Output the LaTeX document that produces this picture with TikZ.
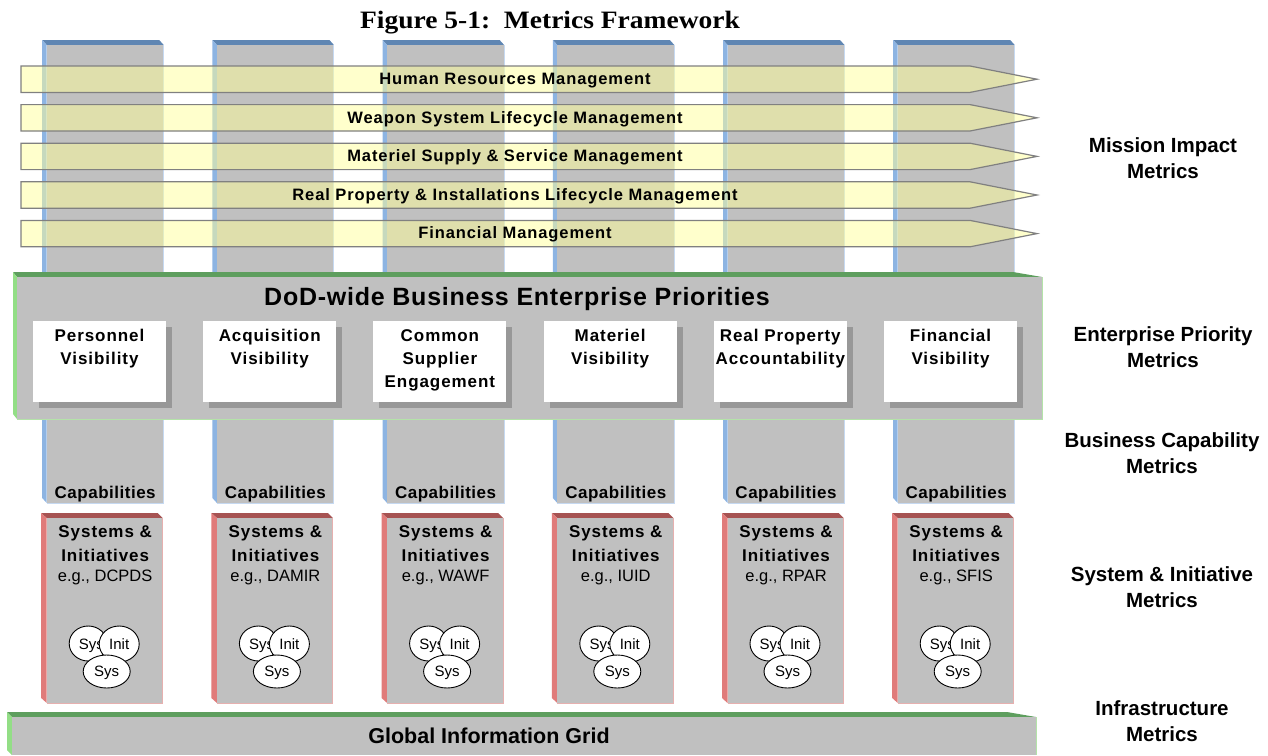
\documentclass[tikz,border=0pt]{standalone}
\usepackage{fontspec}
\setmainfont{Liberation Sans}
\newfontfamily\titlefont{Liberation Serif}
\newfontfamily\lsa[LetterSpace=5.5]{Liberation Sans}
\newfontfamily\lsb[LetterSpace=3]{Liberation Sans}
\usepackage{graphicx}
\usetikzlibrary{shapes.geometric}
\definecolor{frontgray}{HTML}{C0C0C0}
\definecolor{bluetop}{HTML}{5F86B3}
\definecolor{blueside}{HTML}{8DB4E2}
\definecolor{blueline}{HTML}{C6D9F1}
\definecolor{redtop}{HTML}{A65352}
\definecolor{redside}{HTML}{E07B7A}
\definecolor{redline}{HTML}{E6B0AF}
\definecolor{greentop}{HTML}{5E9E5E}
\definecolor{greenside}{HTML}{93DE86}
\definecolor{greenline}{HTML}{B4E3A9}
\definecolor{arrowfill}{HTML}{FFFF99}
\definecolor{arrowline}{HTML}{808080}
\definecolor{shadowgray}{HTML}{989898}
\newcommand{\mlines}[2]{\parbox[t]{#1}{\centering #2}}
\begin{document}
\begin{tikzpicture}[x=1pt,y=-1pt,
  txt/.style={inner sep=0pt, anchor=base},
  titlestyle/.style={txt, font=\titlefont\fontsize{25}{30}\selectfont\bfseries},
  arrowshape/.style={draw=arrowline, line width=1.2pt, fill=arrowfill, fill opacity=0.5},
  arrowtext/.style={txt, font=\lsa\fontsize{16.5}{20}\selectfont\bfseries},
  dodtext/.style={txt, font=\lsb\fontsize{25}{30}\selectfont\bfseries},
  eptext/.style={txt, font=\lsa\fontsize{17}{23}\selectfont\bfseries},
  captext/.style={txt, font=\lsb\fontsize{17}{20}\selectfont\bfseries},
  systext/.style={txt, font=\fontsize{17}{24}\selectfont},
  vennell/.style={ellipse, draw=black, line width=0.9pt, fill=white, inner sep=0pt},
  venntext/.style={inner sep=0pt, font=\fontsize{15}{17}\selectfont},
  gigtext/.style={txt, font=\fontsize{21.5}{26}\selectfont\bfseries},
  metrictext/.style={txt, font=\fontsize{20.5}{26.5}\selectfont\bfseries}
]
\useasboundingbox (0,0) rectangle (1268,755);

% title
\node[titlestyle] (title) at (550,28) {\scalebox{1.1}[1]{Figure 5-1:\ \ Metrics Framework}};

% pillars
\foreach \k in {0,...,5}{
  \pgfmathsetmacro\fx{46.7+170.2*\k}
  \pgfmathsetmacro\fr{\fx+117}
  \fill[bluetop] (\fx-4.5,40) -- (\fr-4.5,40) -- (\fr,45) -- (\fx,45) -- cycle;
  \fill[blueside] (\fx-4.5,40) -- (\fx,45) -- (\fx,503) -- (\fx-4.5,498) -- cycle;
  \fill[frontgray] (\fx,45) rectangle (\fr,503);
  \draw[blueline, line width=1pt] (\fr,45) -- (\fr,503) -- (\fx,503);
}

% arrows
\foreach \i/\t in {0/Human Resources Management,
                   1/Weapon System Lifecycle Management,
                   2/Materiel Supply \& Service Management,
                   3/Real Property \& Installations Lifecycle Management,
                   4/Financial Management}{
  \pgfmathsetmacro\ty{66+38.6*\i}
  \draw[arrowshape] (21,\ty) -- (970,\ty) -- (1037,\ty+13.2) -- (970,\ty+26.4) -- (21,\ty+26.4) -- cycle;
  \node[arrowtext] (arr\i) at (515,\ty+18.4) {\t};
}

% DoD-wide box
\fill[greentop] (13,272) -- (1013,272) -- (1042,277) -- (17,277) -- cycle;
\fill[greenside] (13,272) -- (17,277) -- (17,419) -- (13,414) -- cycle;
\fill[frontgray] (17,277) rectangle (1042,419);
\draw[greenline, line width=1pt] (1042,277) -- (1042,419) -- (17,419);
\node[dodtext] (dod) at (517,305) {DoD-wide Business Enterprise Priorities};

% enterprise priority boxes
\foreach \k/\t in {0/{Personnel\\Visibility},
                   1/{Acquisition\\Visibility},
                   2/{Common\\Supplier\\Engagement},
                   3/{Materiel\\Visibility},
                   4/{Real Property\\Accountability},
                   5/{Financial\\Visibility}}{
  \pgfmathsetmacro\bx{33+170.2*\k}
  \fill[shadowgray] (\bx+6,327) rectangle (\bx+139,408);
  \fill[white] (\bx,321) rectangle (\bx+133,402);
  \node[eptext] (ep\k) at (\bx+66.5,341) {\mlines{130pt}{\t}};
}

% capabilities labels, systems boxes, venn
\foreach \k/\e in {0/DCPDS,1/DAMIR,2/WAWF,3/IUID,4/RPAR,5/SFIS}{
  \pgfmathsetmacro\fx{46.7+170.2*\k}
  \pgfmathsetmacro\cx{\fx+58.5}
  \node[captext] (cap\k) at (\cx,498) {Capabilities};
  \fill[redtop] (\fx-5.5,513) -- (\fx+111,513) -- (\fx+116,518) -- (\fx,518) -- cycle;
  \fill[redside] (\fx-5.5,513) -- (\fx,518) -- (\fx,703) -- (\fx-5.5,698) -- cycle;
  \fill[frontgray] (\fx,518) rectangle (\fx+116,703);
  \draw[redline, line width=1pt] (\fx+116,518) -- (\fx+116,703) -- (\fx,703);
  \node[systext] (sys\k) at (\cx,537) {\mlines{114pt}{\lsa\bfseries Systems \&\\Initiatives\\[-2pt]\normalfont\fontsize{16.5}{22}\selectfont e.g., \e}};
  \node[vennell, minimum width=38pt, minimum height=35pt] (ea\k) at (\cx-17,643.5) {};
  \node[venntext, anchor=base west] (ta\k) at (\cx-26.5,649.5) {Sys};
  \node[vennell, minimum width=40pt, minimum height=36pt] (eb\k) at (\cx+14,644) {};
  \node[venntext, anchor=base] (tb\k) at (\cx+14,649.5) {Init};
  \node[vennell, minimum width=47pt, minimum height=33pt] (ec\k) at (\cx+1.5,671.5) {};
  \node[venntext, anchor=base] (tc\k) at (\cx+1.5,676.5) {Sys};
}

% Global Information Grid
\fill[greentop] (7,712) -- (1007,712) -- (1036,717) -- (12,717) -- cycle;
\fill[greenside] (7,712) -- (12,717) -- (12,755) -- (7,750) -- cycle;
\fill[frontgray] (12,717) rectangle (1036,755);
\draw[greenline, line width=1pt] (1036,717) -- (1036,755);
\node[gigtext] (gig) at (489,743) {Global Information Grid};

% metric labels
\node[metrictext] (m1) at (1163,152) {\mlines{220pt}{Mission Impact\\Metrics}};
\node[metrictext] (m2) at (1163,341) {\mlines{220pt}{Enterprise Priority\\Metrics}};
\node[metrictext] (m3) at (1162,447) {\mlines{220pt}{Business Capability\\Metrics}};
\node[metrictext] (m4) at (1162,581) {\mlines{220pt}{System \& Initiative\\Metrics}};
\node[metrictext] (m5) at (1162,715) {\mlines{220pt}{Infrastructure\\Metrics}};
\end{tikzpicture}
\end{document}
